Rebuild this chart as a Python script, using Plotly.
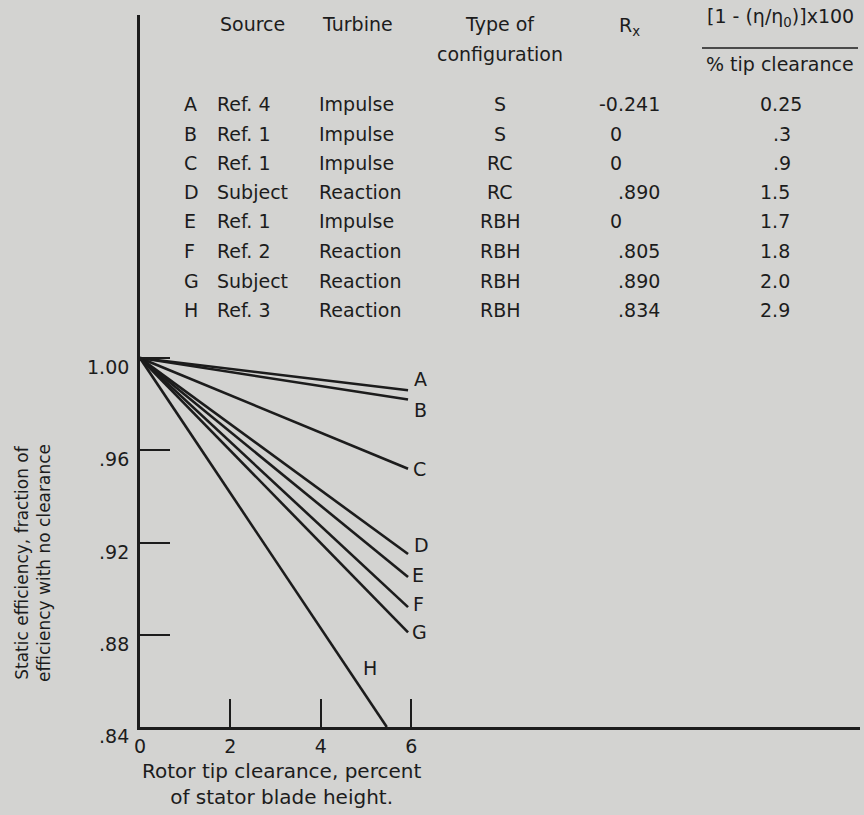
import plotly.graph_objects as go

# ---------------- data ----------------
curve_ids = ["A", "B", "C", "D", "E", "F", "G", "H"]
start_x = 0.0
start_y = 1.00
end_x = [5.93, 5.93, 5.93, 5.93, 5.93, 5.93, 5.93, 5.46]
end_y = [0.986, 0.982, 0.952, 0.915, 0.905, 0.892, 0.881, 0.840]

sources = ["Ref. 4", "Ref. 1", "Ref. 1", "Subject", "Ref. 1", "Ref. 2", "Subject", "Ref. 3"]
turbines = ["Impulse", "Impulse", "Impulse", "Reaction", "Impulse", "Reaction", "Reaction", "Reaction"]
configs = ["S", "S", "RC", "RC", "RBH", "RBH", "RBH", "RBH"]
rx_vals = ["-0.241", "0", "0", ".890", "0", ".805", ".890", ".834"]
loss_vals = ["0.25", ".3", ".9", "1.5", "1.7", "1.8", "2.0", "2.9"]

x_ticks = [0, 2, 4, 6]
x_tick_text = ["0", "2", "4", "6"]
y_ticks = [0.84, 0.88, 0.92, 0.96, 1.00]
y_tick_text = [".84", ".88", ".92", ".96", "1.00"]

# ---------------- style ----------------
W, H = 864, 815
L, R, T, B = 140, 860, 15, 727
BG = "#d3d3d1"
INK = "#1c1c1c"
FONT = "DejaVu Sans, Verdana, sans-serif"

# label offsets (pixels) for the curve letters
lab_dx = [12, 12, 11, 13, 10, 10, 11, -17]
lab_dy = [11, -10, 0, 9, 2, 3, 0, 59]


def px(x):
    return (x - L) / (R - L)


def py(y):
    return (B - y) / (B - T)


fig = go.Figure()

for i, cid in enumerate(curve_ids):
    fig.add_trace(go.Scatter(
        x=[start_x, end_x[i]], y=[start_y, end_y[i]],
        mode="lines", line=dict(color=INK, width=2.6),
        showlegend=False, hoverinfo="skip", name=cid,
    ))

ann = []
# curve letters
for i, cid in enumerate(curve_ids):
    ann.append(dict(x=end_x[i], y=end_y[i], xref="x", yref="y", text=cid,
                    showarrow=False, xshift=lab_dx[i], yshift=lab_dy[i],
                    font=dict(size=19, color=INK, family=FONT)))

# y tick labels (sit slightly below their ticks, as in the original)
for v, t in zip(y_ticks, y_tick_text):
    ann.append(dict(x=px(131), y=v, xref="paper", yref="y", text=t,
                    xanchor="right", yanchor="middle", showarrow=False,
                    yshift=-9, font=dict(size=19, color=INK, family=FONT)))

# axis titles
ann.append(dict(x=px(33), y=py(563), xref="paper", yref="paper",
                text="Static efficiency, fraction of<br>efficiency with no clearance",
                textangle=-90, showarrow=False, xanchor="center", yanchor="middle",
                font=dict(size=17, color=INK, family=FONT)))
ann.append(dict(x=px(281), y=py(784), xref="paper", yref="paper",
                text="Rotor tip clearance, percent<br>of stator blade height.",
                showarrow=False, xanchor="center", yanchor="middle",
                font=dict(size=20, color=INK, family=FONT)))

# table header
hdr_font = dict(size=19, color=INK, family=FONT)
ann += [
    dict(x=px(252), y=py(24), text="Source", xanchor="center"),
    dict(x=px(357), y=py(24), text="Turbine", xanchor="center"),
    dict(x=px(500), y=py(24), text="Type of", xanchor="center"),
    dict(x=px(500), y=py(54), text="configuration", xanchor="center"),
    dict(x=px(629), y=py(26), text="R<sub>x</sub>", xanchor="center"),
    dict(x=px(780), y=py(18), text="[1 - (η/η<sub>0</sub>)]x100", xanchor="center"),
    dict(x=px(780), y=py(64), text="% tip clearance", xanchor="center"),
]
for a in ann[-7:]:
    a.update(xref="paper", yref="paper", yanchor="middle", showarrow=False, font=hdr_font)

row_y = [104, 133.5, 163, 192, 221.5, 251, 280.5, 310]
for i in range(len(curve_ids)):
    y = py(row_y[i])
    cells = [
        (curve_ids[i], 182, "left"),
        (sources[i], 215, "left"),
        (turbines[i], 317, "left"),
        (configs[i], 500, "center"),
    ]
    if rx_vals[i] == "0":
        cells.append((rx_vals[i], 608, "left"))
    else:
        cells.append((rx_vals[i], 662, "right"))
    if loss_vals[i].startswith("."):
        cells.append((loss_vals[i], 793, "right"))
    else:
        cells.append((loss_vals[i], 758, "left"))
    for txt, xx, anc in cells:
        ann.append(dict(x=px(xx), y=y, xref="paper", yref="paper", text=txt,
                        xanchor=anc, yanchor="middle", showarrow=False,
                        font=dict(size=19, color=INK, family=FONT)))

shapes = [dict(type="line", xref="paper", yref="paper",
               x0=px(702), x1=px(858), y0=py(48), y1=py(48),
               line=dict(color=INK, width=1.6))]

x_max = (R - L) / 45.2
y_max = 0.84 + (B - T) / 2306.0

fig.update_layout(
    width=W, height=H,
    margin=dict(l=L, r=W - R, t=T, b=H - B, pad=0),
    paper_bgcolor=BG, plot_bgcolor=BG,
    annotations=ann, shapes=shapes,
    showlegend=False,
    xaxis=dict(range=[0, x_max], tickvals=x_ticks, ticktext=x_tick_text,
               ticks="inside", ticklen=28, tickwidth=2, tickcolor=INK,
               showline=True, linecolor=INK, linewidth=2.5,
               showgrid=False, zeroline=False,
               tickfont=dict(size=19, color=INK, family=FONT)),
    yaxis=dict(range=[0.84, y_max], tickvals=y_ticks, ticktext=y_tick_text,
               ticks="inside", ticklen=30, tickwidth=2, tickcolor=INK,
               showticklabels=False,
               showline=True, linecolor=INK, linewidth=3,
               showgrid=False, zeroline=False),
)

fig.write_html("out.html")
